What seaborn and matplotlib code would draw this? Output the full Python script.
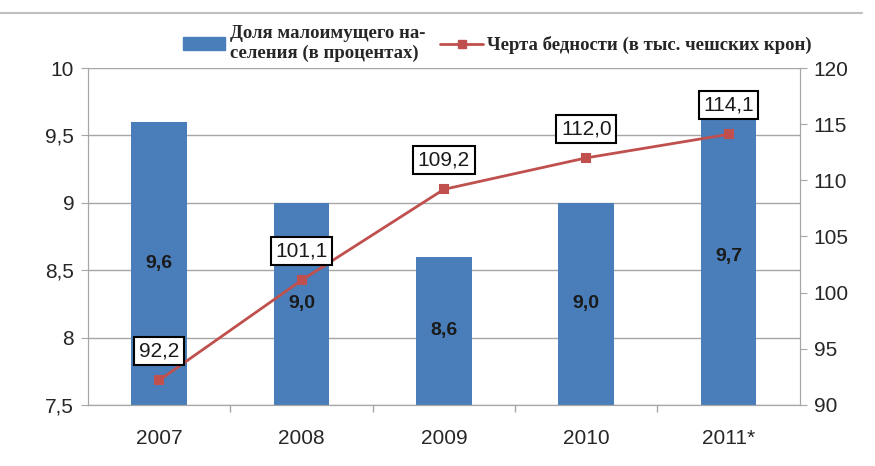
import matplotlib.pyplot as plt
import matplotlib.lines as mlines
import matplotlib.patches as mpatches
import numpy as np
import pandas as pd
import seaborn as sns

years = ["2007", "2008", "2009", "2010", "2011*"]
share_poor = [9.6, 9.0, 8.6, 9.0, 9.7]
poverty_line = [92.2, 101.1, 109.2, 112.0, 114.1]

share_label = "Доля малоимущего на-\nселения (в процентах)"
line_label = "Черта бедности (в тыс. чешских крон)"

bar_color = "#4a7ebb"
line_color = "#c0504d"
grey = "#a6a6a6"
txt = "#262626"

sns.set_style("white")
plt.rcParams['font.family'] = ['Liberation Sans', 'DejaVu Sans']


def fmt(v):
    return f"{v:.1f}".replace(".", ",")


def main():
    df = pd.DataFrame({"Year": years, "Share": share_poor, "Line": poverty_line})

    fig = plt.figure(figsize=(8.75, 4.66), dpi=100)
    ax = fig.add_axes([0.1006, 0.131, 0.8134, 0.723])

    sns.barplot(data=df, x="Year", y="Share", ax=ax, color=bar_color,
                width=0.39, saturation=1, linewidth=0)
    ax.set_ylim(7.5, 10)
    ticks_l = np.arange(7.5, 10.01, 0.5)
    ax.set_yticks(ticks_l)
    ax.set_yticklabels([fmt(t).replace(",0", "") for t in ticks_l])
    ax.yaxis.grid(True, color=grey, lw=1)
    ax.set_axisbelow(True)
    ax.set_xlabel("")
    ax.set_ylabel("")

    # value labels in the middle of the bars
    for i, v in enumerate(share_poor):
        ax.text(i, (7.5 + v) / 2, fmt(v), ha="center", va="center",
                fontsize=14, fontweight="bold", color="#1a1a1a")

    ax2 = ax.twinx()
    sns.pointplot(data=df, x="Year", y="Line", ax=ax2, color=line_color,
                  markers="s", markersize=6, linewidth=2)
    ax2.set_ylim(90, 120)
    ax2.set_yticks(np.arange(90, 121, 5))
    ax2.set_ylabel("")
    ax2.set_xlabel("")
    for i, v in enumerate(poverty_line):
        ax2.annotate(fmt(v), (i, v), xytext=(0, 21), textcoords="offset points",
                     ha="center", va="center", fontsize=15, color="#1a1a1a",
                     bbox=dict(boxstyle="square,pad=0.22", fc="white", ec="black", lw=1.5))

    ax.set_xlim(-0.5, len(years) - 0.5)
    ax.set_xticks(range(len(years)))
    ax.set_xticklabels(years)
    ax.set_xticks(np.arange(0.5, len(years) - 0.5, 1), minor=True)
    ax.tick_params(axis="x", which="major", length=0, labelsize=15, pad=17, colors=txt)
    ax.tick_params(axis="x", which="minor", length=5, color=grey, width=1, bottom=True)
    ax.tick_params(axis="y", length=5, color=grey, labelsize=15, labelcolor=txt, left=True, pad=5)
    ax2.tick_params(axis="y", length=5, color=grey, labelsize=15, labelcolor=txt, right=True, pad=5)

    for a in (ax, ax2):
        for s in a.spines.values():
            s.set_visible(False)
        for s in ("left", "right", "bottom"):
            a.spines[s].set_visible(True)
            a.spines[s].set_color(grey)

    # legend above the plot
    handles = [mpatches.Patch(color=bar_color, label=share_label),
               mlines.Line2D([], [], color=line_color, marker="s", lw=2, markersize=6, label=line_label)]
    fig.legend(handles=handles, loc="center", bbox_to_anchor=(0.5686, 0.906), ncol=2, frameon=False,
               prop={"family": "Liberation Serif", "weight": "bold", "size": 13.5},
               handlelength=2.25, handletextpad=0.25, columnspacing=0.8,
               borderpad=0, labelspacing=0)

    fig.add_artist(mlines.Line2D([0.0, 0.985], [0.972, 0.972], color="#c0c0c0", lw=1.5))

    plt.savefig("out.png", dpi=100)


if __name__ == "__main__":
    main()
